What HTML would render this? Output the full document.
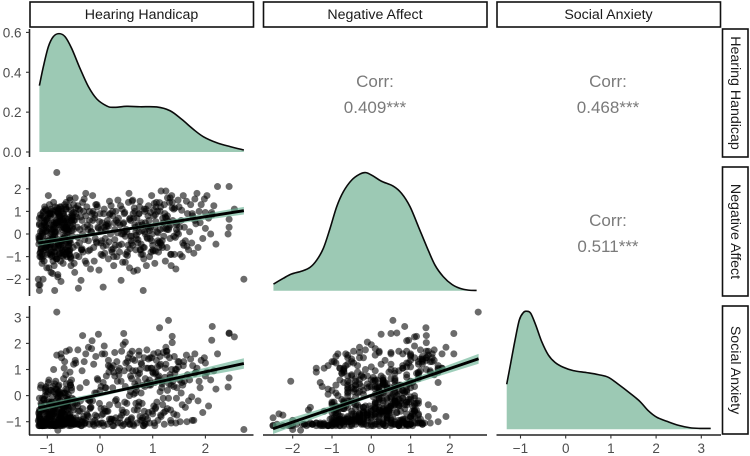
<!DOCTYPE html>
<html>
<head>
<meta charset="utf-8">
<title>Pairs plot</title>
<style>
html,body{margin:0;padding:0;background:#fff;width:750px;height:456px;overflow:hidden}
svg{display:block}
text{font-family:"Liberation Sans",Arial,sans-serif}
.strip{fill:#fff;stroke:#111;stroke-width:1.6}
.striptxt{font-size:14.2px;fill:#1a1a1a;text-anchor:middle;dominant-baseline:central}
.tick{font-size:13.5px;fill:#4d4d4d}
.corr{font-size:17px;fill:#7a7a7a;text-anchor:middle}
</style>
</head>
<body>
<svg id="chart" width="750" height="456" viewBox="0 0 750 456" xmlns="http://www.w3.org/2000/svg">
  <g>
    <rect class="strip" x="30" y="2" width="223.5" height="25"/>
    <text class="striptxt" x="141.5" y="15">Hearing Handicap</text>
    <rect class="strip" x="263.5" y="2" width="223.5" height="25"/>
    <text class="striptxt" x="375" y="15">Negative Affect</text>
    <rect class="strip" x="497" y="2" width="223.5" height="25"/>
    <text class="striptxt" x="608.5" y="15">Social Anxiety</text>
  </g>
  <g>
    <rect class="strip" x="722.5" y="29" width="25.5" height="128"/>
    <text class="striptxt" transform="translate(735 93) rotate(90)">Hearing Handicap</text>
    <rect class="strip" x="722.5" y="167" width="25.5" height="129"/>
    <text class="striptxt" transform="translate(735 231.5) rotate(90)">Negative Affect</text>
    <rect class="strip" x="722.5" y="306" width="25.5" height="128"/>
    <text class="striptxt" transform="translate(735 370) rotate(90)">Social Anxiety</text>
  </g>
  <g>
    <text class="corr" x="375" y="87">Corr:</text>
    <text class="corr" x="375" y="113">0.409***</text>
    <text class="corr" x="608" y="87">Corr:</text>
    <text class="corr" x="608" y="113">0.468***</text>
    <text class="corr" x="608" y="226">Corr:</text>
    <text class="corr" x="608" y="252">0.511***</text>
  </g>
</svg>
<script>
// Per-participant scores, same index = same person
const hearing = [
-0.82,2.73,1.3,1.13,2.13,2.45,2.55,2.45,2.12,-0.33,
-0.03,0.45,-0.15,1.37,1.37,0.48,2.23,2.45,2.43,2.2,
-1.15,-1.12,-1.1,-1.08,-1.05,-1.14,-1.02,-1.0,-0.98,-1.16,
-0.95,-0.93,-0.9,-0.88,-0.86,-1.13,-0.84,-0.82,-0.8,-1.06,
-0.78,-0.76,-0.74,-0.72,-0.7,-1.1,-0.68,-0.66,-0.64,-0.97,
-0.62,-0.6,-0.58,-0.56,-0.54,-1.15,-0.52,-0.5,-0.9,-0.8,
-1.16,-1.09,-1.03,-0.96,-0.89,-0.83,-0.77,-0.71,-0.65,-0.59,
-1.14,-1.07,-1.01,-0.94,-0.87,-0.81,-0.75,-0.69,-0.63,-0.57,
-1.12,-1.04,-0.99,-0.92,-0.85,-0.79,-0.73,-0.67,-0.61,-0.55,
-1.17,-1.11,-1.05,-0.91,-0.86,-0.78,-0.72,-0.66,-0.6,-0.53,
-1.13,-1.08,-1.0,-0.95,-0.88,-0.82,-0.74,-0.68,-0.62,-0.51,
-1.15,-1.1,-1.02,-0.97,-0.9,-0.84,-0.76,-0.7,-0.64,-0.56,
-1.16,-1.06,-0.98,-0.93,-0.87,-0.8,-0.71,-0.65,-0.58,-0.52,
-1.12,-1.03,-0.96,-0.89,-0.83,-0.77,-0.69,-0.63,-0.57,-0.5,
-1.14,-1.07,-0.94,-0.85,-0.79,-0.73,-0.67,-0.61,-0.55,-0.5,
-1.09,-1.01,-0.92,-0.86,-0.75,-0.7,-0.64,-0.59,-0.54,-0.49,
-0.48,-0.46,-0.44,-0.42,-0.4,-0.38,-0.36,-0.34,-0.32,-0.3,
-0.28,-0.26,-0.24,-0.22,-0.2,-0.18,-0.16,-0.14,-0.12,-0.1,
-0.08,-0.06,-0.04,-0.02,0.0,0.02,0.04,0.06,0.08,0.1,
0.12,0.14,0.16,0.18,0.2,0.22,0.24,0.26,0.28,0.3,
-0.47,-0.41,-0.35,-0.27,-0.19,-0.11,-0.05,0.03,0.11,0.19,
0.27,0.32,0.34,0.36,0.38,0.4,0.42,0.44,0.46,0.48,
0.5,0.52,0.54,0.56,0.58,0.6,0.62,0.64,0.66,0.68,
0.7,0.72,0.74,0.76,0.78,0.8,0.82,0.84,0.86,0.88,
0.9,0.92,0.94,0.96,0.98,1.0,1.02,1.04,1.06,1.08,
1.1,1.12,1.14,1.16,1.18,1.2,1.22,1.24,1.26,1.28,
1.3,1.32,1.34,1.36,1.38,1.4,1.42,1.44,1.46,1.48,
0.55,0.63,0.71,0.79,0.87,0.95,1.03,1.11,1.19,1.27,
0.59,0.67,0.75,0.83,0.91,0.99,1.07,1.15,1.23,1.31,
0.35,0.43,0.51,0.61,0.77,0.93,1.09,1.21,1.33,1.45,
1.5,1.52,1.54,1.56,1.58,1.6,1.62,1.64,1.66,1.68,
1.7,1.72,1.74,1.76,1.78,1.8,1.82,1.84,1.86,1.88,
1.9,1.92,1.95,1.98,2.0,2.03,2.06,2.1,2.16,2.0,
1.75,1.8,1.35,1.25,1.45,1.55,1.65,1.15,1.05,0.85,
-1.13,-1.05,-0.97,-0.91,-0.84,-0.78,-0.72,-0.66,-0.6,-0.54,
-1.16,-1.08,-1.0,-0.93,-0.87,-0.81,-0.75,-0.69,-0.63,-0.57,
-1.11,-1.03,-0.95,-0.89,-0.83,-0.77,-0.71,-0.65,-0.59,-0.52,
-1.14,-1.06,-0.98,-0.92,-0.86,-0.8,-0.74,-0.68,-0.62,-0.56,
-1.1,-1.02,-0.94,-0.88,-0.82,-0.76,-0.7,-0.64,-0.58,-0.5,
-0.48,-0.45,-0.43,-0.41,-0.39,-0.37,-0.35,-0.33,-0.31,-0.29,
-1.12,-1.04,-0.96,-0.9,-0.85,-0.79,-0.73,-0.67,-0.61,-0.55,
-1.15,-1.07,-0.99,-0.92,-0.86,-0.8,-0.74,-0.68,-0.46,-0.42,
-0.27,-0.23,-0.19,-0.13,-0.09,-0.01,0.05,0.13,0.21,0.29,
-1.09,-1.01,-0.93,-0.87,-0.81,-0.75,-0.69,-0.63,-0.57,-0.51,
-0.38,-0.3,-0.22,-0.14,-0.06,0.02,0.1,0.18,0.26,0.34,
0.41,0.47,0.53,0.57,0.65,0.69,0.73,0.81,0.85,0.92,
-0.44,-0.34,-0.25,-0.17,-0.07,0.07,0.15,0.23,0.31,0.39,
0.49,0.6,0.68,0.74,0.82,0.89,0.97,1.04,0.62,0.72,
0.02,0.09,0.17,0.25,0.33,0.41,0.52,0.58,0.66,0.76,
0.84,0.94,1.01,1.1,1.17,1.25,1.33,1.41,1.49,1.57,
0.06,0.16,0.28,0.37,0.46,0.57,0.69,0.78,0.86,0.98,
1.05,1.13,1.19,1.27,1.35,1.43,1.51,1.59,1.0,1.1,
-0.2,-0.1,0.08,0.24,0.44,0.64,0.8,0.96,1.06,1.2,
1.28,1.34,1.4,1.46,0.56,0.74,0.9,1.02,1.14,1.24,
-1.11,-1.04,-0.97,-0.9,-0.84,-0.78,-0.72,-0.66,-0.6,-0.54,
-1.15,-1.08,-1.02,-0.94,-0.88,-0.82,-0.76,-0.7,-0.64,-0.58,
-1.13,-1.06,-0.99,-0.92,-0.86,-0.8,-0.74,-0.68,-0.62,-0.56,
-1.1,-1.03,-0.96,-0.89,-0.83,-0.77,-0.71,-0.65,-0.59,-0.53
];
const negative = [
2.72,-2.0,0.55,1.39,0.85,2.1,1.1,0.65,0.95,1.4,
0.25,0.5,0.9,1.15,1.4,-0.1,2.1,0.3,0.0,-0.45,
-0.3,0.7,-1.3,-2.0,1.2,-2.25,0.3,-0.9,1.7,-2.25,
0.9,-1.7,-0.2,1.4,-2.5,-0.8,0.1,1.0,-1.9,0.4,
-0.5,1.2,-2.1,0.3,-1.3,-1.1,0.8,-0.7,1.1,-1.5,
0.2,-0.4,1.6,-1.0,0.6,-2.5,-0.1,1.3,-1.75,-1.8,
-0.2,0.0,-0.6,1.3,-1.2,0.5,-0.3,0.9,-0.9,1.2,
-1.0,0.2,-0.5,0.8,-1.4,0.1,-1.2,0.6,-0.8,1.5,
-0.7,1.1,-0.2,0.4,-1.0,0.9,-0.4,1.3,0.1,-1.4,
-2.0,-0.4,0.5,-0.8,-0.1,1.1,-0.7,0.5,-0.2,0.9,
0.1,-1.0,0.6,-0.5,0.3,-1.1,1.0,-0.3,0.4,-0.6,
0.7,-0.9,0.4,-0.3,1.0,-0.6,0.7,-1.0,0.2,-0.4,
-0.1,-1.2,0.9,0.0,-0.8,0.5,-0.5,1.2,-0.9,0.3,
-1.0,0.6,-0.6,0.2,-1.1,0.8,-0.2,0.3,-0.7,0.6,
-0.2,1.0,-0.9,0.3,-0.4,1.1,-0.1,0.5,-1.1,0.2,
0.8,-1.5,0.1,-0.6,0.6,-0.8,1.4,-0.3,0.7,-1.3,
-1.7,0.9,-0.5,1.25,-1.0,0.2,-2.05,0.6,-0.8,1.55,
-1.2,-1.3,0.4,-0.3,1.0,-1.55,0.1,1.7,-0.6,0.7,
1.3,-0.4,0.3,-1.6,0.9,-0.9,0.5,-2.35,1.1,-0.2,
-0.5,0.6,-1.1,1.45,0.0,-0.7,0.8,-1.4,0.2,1.0,
1.6,-2.4,-0.7,1.8,0.3,-1.2,1.2,-0.3,0.4,0.9,
0.5,-1.0,1.5,-0.5,0.4,-2.05,1.1,0.0,0.9,-1.25,
0.2,-0.8,1.4,-1.5,0.6,-0.1,1.5,-1.65,1.0,0.1,
0.7,-0.4,0.9,1.45,-0.9,0.4,-2.5,1.1,0.0,-1.4,
-0.2,1.25,-1.0,0.3,1.7,-0.5,0.8,-1.3,1.2,0.1,
-0.4,-0.6,1.0,1.9,-0.3,0.5,1.3,-1.2,0.7,1.6,
0.2,1.4,-0.9,1.7,0.6,-0.1,1.15,-1.55,0.4,1.5,
1.8,0.9,-1.6,0.5,1.1,-0.2,1.35,-0.8,0.7,-0.6,
-0.3,0.3,1.2,-1.1,0.8,0.0,1.4,-0.4,0.9,0.3,
0.7,-1.25,0.1,1.45,-0.7,0.6,1.0,-0.1,1.6,0.5,
1.2,-0.9,0.6,-1.0,1.7,0.3,-0.3,1.45,0.9,-0.7,
0.1,1.3,-0.4,0.8,-0.85,1.55,0.45,1.8,-0.6,1.0,
0.5,1.3,-0.2,1.55,0.25,1.7,0.7,0.0,1.25,0.95,
0.9,0.6,-1.4,1.9,0.2,1.05,-0.55,1.2,0.85,0.1,
0.85,-0.6,0.25,-0.95,1.05,0.4,-0.25,0.7,-0.75,0.15,
-0.45,0.95,0.1,-0.8,0.55,1.15,-0.35,0.3,-1.0,0.75,
0.35,-0.7,1.0,-0.15,0.6,-0.9,0.2,1.1,-0.5,0.45,
-0.85,0.5,-0.3,0.9,0.05,-0.6,1.2,-0.2,0.65,-1.05,
0.15,1.05,-0.55,0.4,-1.1,0.8,-0.05,0.55,-0.75,0.95,
0.6,-0.95,0.3,1.1,-0.4,0.75,-0.7,0.0,1.0,-0.25,
-0.65,0.35,0.85,-0.1,1.2,-0.45,0.5,-0.9,0.2,1.05,
0.45,-0.3,0.7,-1.0,0.1,0.95,-0.6,0.25,1.15,-0.15,
0.8,0.2,-0.7,1.0,-0.2,0.55,-0.95,0.35,1.25,-0.5,
-0.1,0.65,1.1,-0.55,0.4,-0.85,0.9,0.05,-0.3,0.75,
1.05,0.3,-0.75,0.6,1.3,-0.4,0.15,0.85,-1.0,0.5,
0.0,0.95,-0.5,0.7,1.15,-0.2,0.4,-0.9,1.0,0.25,
0.75,-0.65,1.2,0.1,-0.35,0.9,0.45,-0.8,0.6,1.25,
-0.9,-0.4,-0.7,0.1,-0.6,-0.15,-0.8,0.3,-0.5,-0.25,
0.2,-0.85,-0.35,-0.65,0.05,-0.45,-0.95,-0.1,0.4,-0.7,
-0.6,0.15,-0.75,-0.3,-0.5,0.25,-0.2,-0.9,0.0,-0.4,
-0.55,0.35,-0.25,-0.8,0.1,-0.65,-0.05,-0.45,0.5,-0.3,
-0.75,-0.35,-0.6,0.2,-0.9,-0.15,0.3,-0.5,-0.7,0.05,
0.6,0.85,0.3,1.0,0.45,0.7,0.15,0.95,0.55,0.25,
0.8,0.4,1.1,0.05,0.65,0.9,0.35,1.05,0.2,0.75,
-0.6,0.1,-0.85,0.5,-0.35,0.75,-0.95,0.25,-0.55,0.6,
0.4,-0.75,0.15,-0.45,0.85,-0.2,0.55,-0.65,0.3,-0.9,
-0.1,0.7,-0.5,0.2,-0.8,1.0,-0.3,0.45,-0.7,0.35,
0.05,-0.6,0.9,-0.25,0.5,-0.85,0.65,-0.4,0.1,0.8
];
const social = [
3.2,-1.3,2.88,2.6,2.65,2.38,2.25,2.4,2.12,2.3,
2.35,2.38,2.1,2.27,2.03,2.05,1.6,0.68,0.33,0.25,
-0.8,0.4,-1.1,-1.15,-0.3,-0.75,-0.95,-1.1,0.5,-1.15,
-0.7,-1.1,-0.45,1.0,-1.15,-1.0,0.55,1.55,-1.1,-0.5,
-0.9,-0.2,-1.15,0.1,-1.05,-1.15,1.05,-0.95,-0.3,-1.1,
-0.55,-1.1,1.75,-0.85,0.6,-0.85,-0.95,1.2,-1.1,-1.33,
-1.0,-1.15,0.3,-1.1,-0.6,-1.05,0.15,-1.1,-0.4,-0.95,
-1.15,-0.75,-1.1,0.2,-1.15,-0.5,-1.1,0.65,-1.0,0.9,
-1.1,0.0,-0.85,-0.6,-1.1,0.35,-0.9,1.3,-0.7,-1.05,
-0.95,-0.35,-1.15,-0.8,0.45,-1.05,-0.25,-0.9,0.05,-1.1,
-1.1,-1.0,-0.2,-0.95,-0.7,-1.15,1.6,-1.0,-0.15,-0.85,
-1.15,-0.55,-0.9,0.6,-1.1,0.25,-1.15,-0.65,-0.9,0.4,
-0.65,-1.1,0.15,-0.85,-1.15,-0.1,-0.95,0.8,-1.05,-0.3,
-0.3,-1.0,-0.8,-1.15,0.05,-0.9,-0.45,-1.05,0.5,-1.1,
-0.9,-0.15,-1.15,-0.6,-1.0,1.45,-0.75,-0.4,-1.15,-0.55,
-0.1,-1.1,-0.7,-1.0,-0.35,-1.15,1.7,-0.85,0.2,-1.1,
-1.1,1.25,-0.95,1.75,-1.1,0.3,-1.15,0.95,-0.9,1.3,
-1.05,0.5,-0.75,1.85,-1.1,-0.45,1.8,-1.0,1.2,-0.95,
1.5,-0.8,0.6,-1.1,0.2,-1.05,1.6,-0.7,1.9,-0.6,
0.75,-1.1,1.15,-0.35,-1.0,1.05,-1.15,0.9,1.65,-0.85,
1.35,-1.1,-1.0,1.6,-0.2,-1.15,0.65,-0.75,0.3,1.1,
-0.95,1.3,-1.05,0.8,-0.85,0.55,-0.55,1.95,-1.1,0.35,
-0.65,-1.0,1.45,-1.1,0.15,-0.85,0.95,-1.15,1.35,-0.3,
-1.05,0.55,1.7,-0.8,0.1,-0.95,-1.15,-0.6,-1.1,1.05,
-0.9,1.4,-1.05,0.4,1.05,-0.7,1.6,-1.15,0.9,-0.25,
-0.95,0.75,1.5,-0.8,0.45,1.65,-1.1,1.05,1.7,-0.5,
-0.1,1.45,-0.95,1.0,0.55,-0.7,0.85,-1.05,0.3,1.3,
1.05,-1.1,-0.55,1.2,-0.8,1.45,-1.05,0.6,-0.35,1.55,
-0.9,0.1,0.85,-1.15,1.05,-0.6,1.35,-0.75,0.7,0.45,
0.95,-1.15,-0.3,1.7,-0.95,0.4,1.1,-0.65,0.8,1.0,
1.3,-1.0,0.1,-0.35,1.15,0.55,-0.45,1.55,0.8,-0.2,
0.6,1.4,-0.05,1.15,-0.95,1.6,0.9,1.05,-0.2,0.55,
0.3,1.35,-0.65,1.45,0.75,0.9,-0.4,0.6,0.95,1.25,
-0.95,0.85,-1.05,1.85,-0.1,0.5,-1.0,1.2,-0.5,0.35,
-1.05,-0.9,-0.6,-0.25,-1.15,-0.75,-1.1,-0.4,-0.15,-1.0,
-0.7,-1.15,0.05,-0.95,-1.1,-0.3,-0.85,-0.55,0.2,-1.05,
-1.15,-0.5,-0.8,-1.1,-0.2,-0.65,-1.0,-0.1,-1.15,-0.45,
-0.6,-1.05,-0.95,-0.35,-1.15,0.1,-0.75,-1.1,-0.25,-0.9,
-1.1,-0.7,-1.15,-0.55,0.25,-1.0,-0.4,-0.85,-1.05,-0.15,
-0.3,-0.85,-1.1,-0.6,-0.95,-0.2,-1.15,-0.5,-0.8,-1.05,
-0.9,-1.15,-0.35,-0.75,-1.05,0.15,-0.65,-1.1,-0.45,-0.85,
-0.55,-1.0,-1.15,-0.25,-0.8,-1.1,0.0,-0.7,-1.05,-0.4,
-0.95,-0.15,-0.5,-1.1,-0.75,-0.3,-1.05,-0.6,-0.9,-0.2,
-1.15,-0.65,-0.35,-1.0,-0.85,-0.45,-1.1,-0.05,-0.7,-0.95,
-0.6,-1.1,-0.8,-0.2,-1.05,-0.5,0.3,-0.9,-1.15,-0.35,
-0.75,-0.25,-0.95,-1.1,-0.55,0.2,-0.4,-0.85,-1.05,-0.65,
-0.3,-1.0,-0.7,-0.45,0.1,-1.15,-0.6,-0.9,-0.15,-1.05,
1.25,0.65,0.95,1.55,0.4,1.75,1.05,0.5,1.4,0.8,
0.35,1.6,0.9,1.15,0.55,1.7,1.3,0.75,0.45,1.0,
1.45,0.6,0.85,1.65,0.3,1.2,0.7,1.5,1.1,0.4,
0.5,1.35,0.75,1.05,0.95,1.6,0.35,1.25,0.65,1.45,
0.85,1.15,0.55,1.7,0.4,1.0,0.6,1.3,0.9,0.7,
-0.2,0.1,-0.5,0.3,-0.65,0.05,-0.3,0.45,-0.45,-0.1,
0.2,-0.55,0.35,-0.75,0.0,-0.25,0.5,-0.4,0.15,-0.6,
-0.45,0.25,-0.7,-0.05,-0.35,0.4,-0.6,0.1,-0.2,0.3,
-0.1,-0.5,0.35,-0.3,0.15,-0.65,0.05,-0.4,0.45,-0.75,
0.3,-0.15,-0.6,0.2,-0.45,-0.05,-0.7,0.1,-0.3,0.4,
-0.55,0.15,-0.25,0.35,-0.4,0.0,-0.65,0.25,-0.5,-0.1
];

// Density curves: grid positions and heights
const hearingGrid = [-1.15,-1.075,-0.98,-0.886,-0.778,-0.664,-0.538,-0.38,-0.22,-0.06,0.127,0.25,0.507,0.76,1.076,1.33,1.55,1.77,1.96,2.21,2.47,2.73];
const hearingDensity = [0.333,0.428,0.528,0.579,0.594,0.579,0.52,0.42,0.328,0.266,0.231,0.224,0.229,0.227,0.226,0.207,0.164,0.114,0.077,0.047,0.027,0.01];
const negativeGrid = [-2.49,-2.24,-2.03,-1.77,-1.56,-1.39,-1.22,-1.05,-0.88,-0.71,-0.5,-0.29,-0.135,0.05,0.26,0.56,0.77,0.985,1.2,1.41,1.62,1.83,2.05,2.26,2.47,2.68];
const negativeDensity = [0.023,0.043,0.058,0.068,0.081,0.106,0.147,0.216,0.292,0.344,0.384,0.405,0.41,0.398,0.38,0.363,0.338,0.292,0.222,0.153,0.089,0.049,0.022,0.008,0.002,0.001];
const socialGrid = [-1.305,-1.217,-1.12,-1.026,-0.937,-0.863,-0.774,-0.664,-0.53,-0.385,-0.237,-0.053,0.168,0.465,0.721,0.943,1.164,1.423,1.644,1.827,2.013,2.235,2.49,2.75,2.97,3.208];
const socialDensity = [0.201,0.295,0.399,0.488,0.521,0.527,0.518,0.466,0.391,0.332,0.299,0.277,0.262,0.253,0.244,0.232,0.201,0.161,0.124,0.083,0.054,0.036,0.018,0.007,0.004,0.004];

// Fitted lines: x, fit, lower and upper confidence bound
const fitHHNAx = [-1.17,0.45,2.73];
const fitHHNAy = [-0.4,0.195,1.03];
const fitHHNAlo = [-0.52,0.13,0.86];
const fitHHNAhi = [-0.28,0.26,1.2];
const fitHHSAx = [-1.17,0.45,2.73];
const fitHHSAy = [-0.47,0.236,1.23];
const fitHHSAlo = [-0.6,0.17,1.03];
const fitHHSAhi = [-0.34,0.3,1.43];
const fitNASAx = [-2.5,0,2.73];
const fitNASAy = [-1.27,0.01,1.41];
const fitNASAlo = [-1.47,-0.06,1.22];
const fitNASAhi = [-1.07,0.08,1.6];

// Tick labels
const xTicksHearing = [-1,0,1,2];
const xTicksNegative = [-2,-1,0,1,2];
const xTicksSocial = [-1,0,1,2,3];
const yTicksDensity = [0,0.2,0.4,0.6];
const yTicksNegative = [-2,-1,0,1,2];
const yTicksSocial = [-1,0,1,2,3];

const NS = 'http://www.w3.org/2000/svg';
const svg = document.getElementById('chart');
const xHearing = v => 100 + v * 52.7;
const xNegative = v => 371.3 + v * 39.3;
const xSocial = v => 565.7 + v * 45.2;
const yDensityTop = v => 152 - v * 199.3;
const yDensityMid = v => 290.7 - v * 288;
const yDensityBot = v => 429.3 - v * 224;
const yNegative = v => 234 - v * 22.6;
const ySocial = v => 395.6 - v * 26.1;
const fmtTick = v => (v < 0 ? '\u2212' + Math.abs(v) : String(v));

function make(tag, attrs, parent) {
  const el = document.createElementNS(NS, tag);
  Object.keys(attrs).forEach(k => el.setAttribute(k, attrs[k]));
  (parent || svg).appendChild(el);
  return el;
}
function smooth(pts) {
  let d = 'M' + pts[0][0].toFixed(2) + ' ' + pts[0][1].toFixed(2);
  for (let i = 0; i < pts.length - 1; i++) {
    const p0 = pts[Math.max(i - 1, 0)], p1 = pts[i], p2 = pts[i + 1], p3 = pts[Math.min(i + 2, pts.length - 1)];
    const c1x = p1[0] + (p2[0] - p0[0]) / 6, c1y = p1[1] + (p2[1] - p0[1]) / 6;
    const c2x = p2[0] - (p3[0] - p1[0]) / 6, c2y = p2[1] - (p3[1] - p1[1]) / 6;
    d += 'C' + c1x.toFixed(2) + ' ' + c1y.toFixed(2) + ' ' + c2x.toFixed(2) + ' ' + c2y.toFixed(2) + ' ' + p2[0].toFixed(2) + ' ' + p2[1].toFixed(2);
  }
  return d;
}
function drawDensity(name, grid, dens, sx, sy) {
  const g = make('g', {});
  
  
  const pts = grid.map((x, i) => [sx(x), sy(dens[i])]);
  const line = smooth(pts);
  const area = make('path', {d: line + 'L' + pts[pts.length - 1][0] + ' ' + sy(0) + 'L' + pts[0][0] + ' ' + sy(0) + 'Z', fill: '#9cc9b4', stroke: 'none'}, g);
  
  
  const curve = make('path', {d: line, fill: 'none', stroke: '#0a0a0a', 'stroke-width': 1.6}, g);
  
  
}
function drawScatter(name, xs, ys, sx, sy, fx, fy, lo, hi) {
  const g = make('g', {});
  
  
  const n = Math.min(xs.length, ys.length);
  for (let i = 0; i < n; i++) {
    const c = make('circle', {cx: sx(xs[i]).toFixed(2), cy: sy(ys[i]).toFixed(2), r: 3.5, fill: '#000', 'fill-opacity': 0.58}, g);
    
    
  }
  const top = fx.map((x, i) => sx(x).toFixed(2) + ',' + sy(hi[i]).toFixed(2));
  const bot = fx.map((x, i) => sx(x).toFixed(2) + ',' + sy(lo[i]).toFixed(2)).reverse();
  const rib = make('polygon', {points: top.concat(bot).join(' '), fill: '#62b08f', 'fill-opacity': 0.62}, g);
  
  
  const fit = make('polyline', {points: fx.map((x, i) => sx(x).toFixed(2) + ',' + sy(fy[i]).toFixed(2)).join(' '), fill: 'none', stroke: '#000', 'stroke-width': 2.9}, g);
  
  
}
function drawXAxis(name, ticks, sx, x0, x1) {
  const g = make('g', {});
  
  
  make('line', {x1: x0, x2: x1, y1: 435, y2: 435, stroke: '#222', 'stroke-width': 1.6}, g);
  ticks.forEach(t => {
    make('line', {x1: sx(t), x2: sx(t), y1: 435, y2: 438.5, stroke: '#333', 'stroke-width': 1.1}, g);
    const lab = make('text', {class: 'tick', x: sx(t), y: 453, 'text-anchor': 'middle'}, g);
    
    
    lab.textContent = fmtTick(t);
  });
}
function drawYAxis(name, ticks, sy, y0, y1, fmt) {
  const g = make('g', {});
  
  
  make('line', {x1: 29.5, x2: 29.5, y1: y0, y2: y1, stroke: '#222', 'stroke-width': 1.6}, g);
  ticks.forEach(t => {
    make('line', {x1: 26, x2: 29.5, y1: sy(t), y2: sy(t), stroke: '#333', 'stroke-width': 1.1}, g);
    const lab = make('text', {class: 'tick', x: 21.5, y: sy(t) + 5, 'text-anchor': 'end'}, g);
    
    
    lab.textContent = fmt(t);
  });
}

drawDensity('density-hearing-handicap', hearingGrid, hearingDensity, xHearing, yDensityTop);
drawDensity('density-negative-affect', negativeGrid, negativeDensity, xNegative, yDensityMid);
drawDensity('density-social-anxiety', socialGrid, socialDensity, xSocial, yDensityBot);
drawScatter('scatter-hearing-vs-negative', hearing, negative, xHearing, yNegative, fitHHNAx, fitHHNAy, fitHHNAlo, fitHHNAhi);
drawScatter('scatter-hearing-vs-social', hearing, social, xHearing, ySocial, fitHHSAx, fitHHSAy, fitHHSAlo, fitHHSAhi);
drawScatter('scatter-negative-vs-social', negative, social, xNegative, ySocial, fitNASAx, fitNASAy, fitNASAlo, fitNASAhi);
drawXAxis('x-axis-hearing-handicap', xTicksHearing, xHearing, 29, 253.5);
drawXAxis('x-axis-negative-affect', xTicksNegative, xNegative, 263, 487);
drawXAxis('x-axis-social-anxiety', xTicksSocial, xSocial, 496.5, 721);
drawYAxis('y-axis-density', yTicksDensity, yDensityTop, 29, 157, t => t.toFixed(1));
drawYAxis('y-axis-negative-affect', yTicksNegative, yNegative, 167, 296, fmtTick);
drawYAxis('y-axis-social-anxiety', yTicksSocial, ySocial, 306, 435, fmtTick);
</script>
</body>
</html>
